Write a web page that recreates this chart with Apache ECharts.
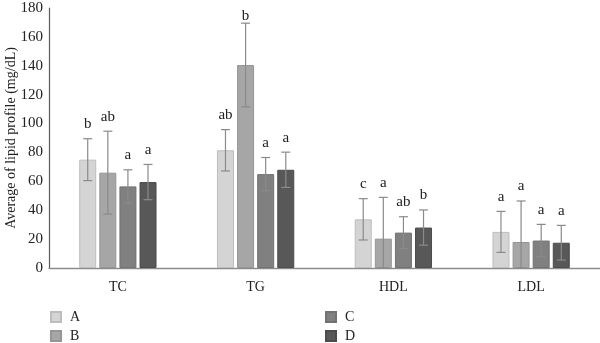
<!DOCTYPE html>
<html>
<head>
<meta charset="utf-8">
<script src="https://cdn.jsdelivr.net/npm/echarts@6/dist/echarts.min.js"></script>
<style>
  html, body { margin: 0; padding: 0; background: #fff; }
  #chart { width: 600px; height: 343px; }
</style>
</head>
<body>
<div id="chart"></div>
<script>
// Lipid profile means (mg/dL) with standard deviations and significance letters
const categories = ['TC', 'TG', 'HDL', 'LDL'];
const groups = ['A', 'B', 'C', 'D'];

const meanA = [75, 81.5, 33.7, 25];
const meanB = [66, 140.5, 20.3, 18];
const meanC = [56.5, 65, 24.5, 19];
const meanD = [59.5, 68, 28, 17.5];

const sdA = [14.5, 14.3, 14.3, 14.2];
const sdB = [28.7, 29, 28.6, 28.4];
const sdC = [11.5, 11.5, 11, 11.2];
const sdD = [12.2, 12.2, 12.2, 12];

const letterA = ['b', 'ab', 'c', 'a'];
const letterB = ['ab', 'b', 'a', 'a'];
const letterC = ['a', 'a', 'ab', 'a'];
const letterD = ['a', 'a', 'b', 'a'];

const yTicks = { min: 0, max: 180, interval: 20 };

const means = [meanA, meanB, meanC, meanD];
const sds = [sdA, sdB, sdC, sdD];
const letters = [letterA, letterB, letterC, letterD];

const fills = ['#d4d4d4', '#a6a6a6', '#808080', '#585858'];
const borders = ['#bdbdbd', '#959595', '#727272', '#4c4c4c'];

const SERIF = '"Liberation Serif", "DejaVu Serif", serif';
const BAR_W = 17;
const BAR_GAP = 3.1;
const GRID_TOP = 8;

const barSeries = groups.map((g, i) => ({
  name: g,
  type: 'bar',
  barWidth: BAR_W,
  barGap: (BAR_GAP / BAR_W * 100).toFixed(1) + '%',
  data: means[i],
  itemStyle: { color: fills[i], borderColor: borders[i], borderWidth: 1 },
  z: 2
}));

// Error bars plus significance letters for each group, aligned on its bar
const errorSeries = groups.map((g, gi) => ({
  type: 'custom',
  name: g + '-err',
  z: 3,
  silent: true,
  data: categories.map((c, ci) => [ci, means[gi][ci], sds[gi][ci]]),
  renderItem: function (params, api) {
    const ci = api.value(0);
    const m = api.value(1);
    const s = api.value(2);
    const letter = letters[gi][ci];
    const offset = (gi - 1.5) * (BAR_W + BAR_GAP);
    const top = api.coord([ci, m + s]);
    const bot = api.coord([ci, Math.max(0, m - s)]);
    const x = top[0] + offset;
    const half = 4.5;
    const labelBottom = Math.max(top[1] - 7, GRID_TOP + 16);
    const stroke = { stroke: '#8a8a8a', lineWidth: 1.2 };
    return {
      type: 'group',
      children: [
        { type: 'line', shape: { x1: x, y1: top[1], x2: x, y2: bot[1] }, style: stroke },
        { type: 'line', shape: { x1: x - half, y1: top[1], x2: x + half, y2: top[1] }, style: stroke },
        { type: 'line', shape: { x1: x - half, y1: bot[1], x2: x + half, y2: bot[1] }, style: stroke },
        { type: 'text', x: x, y: labelBottom,
          style: { text: letter, fill: '#222', font: '15px ' + SERIF,
                   textAlign: 'center', textVerticalAlign: 'bottom' } }
      ]
    };
  }
}));

const legendText = { color: '#222', fontFamily: SERIF, fontSize: 14, lineHeight: 14, padding: [0, 0, 0, 4] };

const chart = echarts.init(document.getElementById('chart'), null, { renderer: 'canvas' });
chart.setOption({
  animation: false,
  backgroundColor: '#fff',
  grid: { left: 49, right: 0, top: GRID_TOP, bottom: 75, containLabel: false, outerBoundsMode: 'none' },
  legend: [
    { data: ['A', 'B'], orient: 'vertical', left: 50, top: 310, height: 40, itemWidth: 10, itemHeight: 10,
      itemGap: 5, icon: 'rect', padding: 0, textStyle: legendText },
    { data: ['C', 'D'], orient: 'vertical', left: 325, top: 310, height: 40, itemWidth: 10, itemHeight: 10,
      itemGap: 5, icon: 'rect', padding: 0, textStyle: legendText }
  ],
  xAxis: {
    type: 'category',
    data: categories,
    axisLine: { lineStyle: { color: '#8c8c8c', width: 1.3 } },
    axisTick: { show: false },
    axisLabel: { color: '#222', fontFamily: SERIF, fontSize: 14, margin: 12 },
    splitLine: { show: false }
  },
  yAxis: {
    type: 'value',
    min: yTicks.min,
    max: yTicks.max,
    interval: yTicks.interval,
    name: 'Average of lipid profile (mg/dL)',
    nameLocation: 'middle',
    nameGap: 31,
    nameMoveOverlap: false,
    nameTextStyle: { color: '#222', fontFamily: SERIF, fontSize: 14 },
    axisLine: { show: true, lineStyle: { color: '#5a5a5a', width: 1.2 } },
    axisTick: { show: false },
    axisLabel: { color: '#222', fontFamily: SERIF, fontSize: 15, margin: 6 },
    splitLine: { show: false }
  },
  series: barSeries.concat(errorSeries)
});
</script>
</body>
</html>
